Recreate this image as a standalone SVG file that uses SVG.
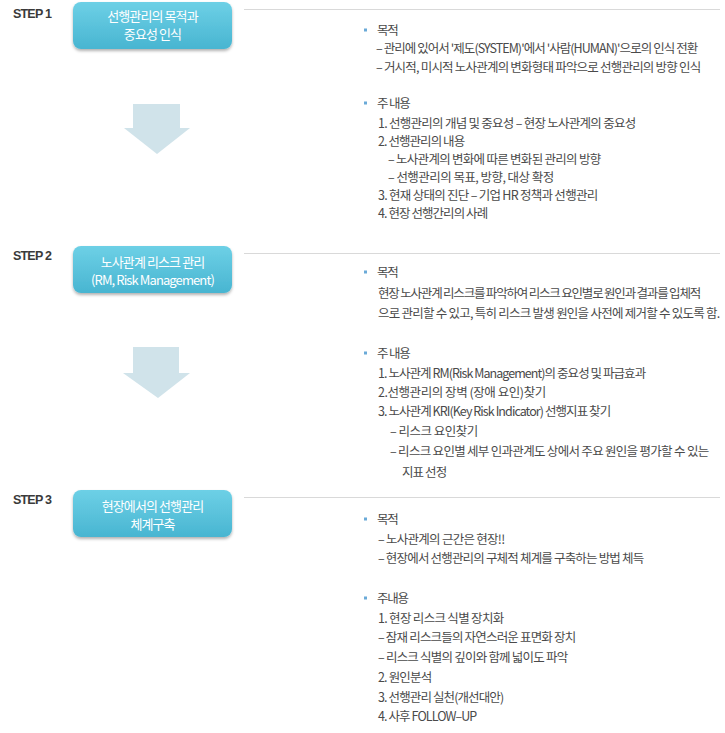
<svg xmlns="http://www.w3.org/2000/svg" width="725" height="733" viewBox="0 0 725 733">
<defs>
<linearGradient id="boxg" x1="0" y1="0" x2="0" y2="1">
<stop offset="0" stop-color="#6dd0e6"/>
<stop offset="1" stop-color="#48b5d1"/>
</linearGradient>
<filter id="sh" x="-10%" y="-10%" width="120%" height="130%">
<feDropShadow dx="0" dy="2" stdDeviation="1.5" flood-color="#000" flood-opacity="0.3"/>
</filter>
<rect id="bul" width="3" height="3" fill="#6aaad8"/>
</defs>
<style>
.step{font-family:"Liberation Sans","Noto Sans CJK KR",sans-serif;font-size:12.5px;font-weight:bold;fill:#3a3a3a;letter-spacing:-0.8px}
.bx{font-family:"Noto Sans CJK KR",sans-serif;font-size:13px;fill:#fff;text-anchor:middle;letter-spacing:-0.9px}
.t{font-family:"Noto Sans CJK KR",sans-serif;font-size:12.5px;fill:#4a4a4a;letter-spacing:-1.2px}
.hl{stroke:#d9d9d9;stroke-width:1}
.ar{fill:#d0e3ea}
</style>
<rect width="725" height="733" fill="#fff"/>

<g id="connectors">
<polygon class="ar" points="133,104 180,104 180,128 190,128 157,154 124,128 133,128"/>
<polygon class="ar" points="133,347 179,347 179,373 190,373 158,398 123,373 133,373"/>
</g>

<g id="step1">
<text class="step" x="13" y="18">STEP 1</text>
<rect x="73" y="2" width="159" height="47" rx="8" fill="url(#boxg)" filter="url(#sh)"/>
<text class="bx" x="152.5" y="20.5">선행관리의 목적과</text>
<text class="bx" x="152.5" y="38.5">중요성 인식</text>
<line class="hl" x1="244" y1="9.5" x2="720" y2="9.5"/>
<use href="#bul" x="364" y="28.5"/>
<text class="t" x="377" y="35">목적</text>
<text class="t" x="376" y="53" textLength="321">– 관리에 있어서 '제도(SYSTEM)'에서 '사람(HUMAN)'으로의 인식 전환</text>
<text class="t" x="376" y="72" textLength="324">– 거시적, 미시적 노사관계의 변화형태 파악으로 선행관리의 방향 인식</text>
<use href="#bul" x="364" y="101.5"/>
<text class="t" x="377" y="108">주 내용</text>
<text class="t" x="378" y="128" textLength="257">1. 선행관리의 개념 및 중요성 – 현장 노사관계의 중요성</text>
<text class="t" x="378" y="146" textLength="86">2. 선행관리의 내용</text>
<text class="t" x="388" y="164" textLength="212">– 노사관계의 변화에 따른 변화된 관리의 방향</text>
<text class="t" x="388" y="182" textLength="165">– 선행관리의 목표, 방향, 대상 확정</text>
<text class="t" x="378" y="200" textLength="219">3. 현재 상태의 진단 – 기업 HR 정책과 선행관리</text>
<text class="t" x="378" y="218" textLength="109">4. 현장 선행간리의 사례</text>
</g>

<g id="step2">
<text class="step" x="13" y="260">STEP 2</text>
<rect x="73" y="246" width="159" height="47" rx="8" fill="url(#boxg)" filter="url(#sh)"/>
<text class="bx" x="152.5" y="266.5">노사관계 리스크 관리</text>
<text class="bx" x="152.5" y="284.5">(RM, Risk Management)</text>
<line class="hl" x1="244" y1="253.5" x2="720" y2="253.5"/>
<use href="#bul" x="364" y="270.5"/>
<text class="t" x="377" y="277">목적</text>
<text class="t" x="378" y="298" textLength="322">현장 노사관계 리스크를 파악하여 리스크 요인별로 원인과 결과를 입체적</text>
<text class="t" x="378" y="318" textLength="341">으로 관리할 수 있고, 특히 리스크 발생 원인을 사전에 제거할 수 있도록 함.</text>
<use href="#bul" x="364" y="351.5"/>
<text class="t" x="377" y="358">주 내용</text>
<text class="t" x="378" y="378" textLength="267">1. 노사관계 RM(Risk Management)의 중요성 및 파급효과</text>
<text class="t" x="378" y="397" textLength="167">2.선행관리의 장벽 (장애 요인)찾기</text>
<text class="t" x="378" y="416" textLength="232">3. 노사관계 KRI(Key Risk Indicator) 선행지표 찾기</text>
<text class="t" x="390" y="436" textLength="87">– 리스크 요인찾기</text>
<text class="t" x="390" y="456" textLength="318">– 리스크 요인별 세부 인과관계도 상에서 주요 원인을 평가할 수 있는</text>
<text class="t" x="402" y="477" textLength="44">지표 선정</text>
</g>

<g id="step3">
<text class="step" x="13" y="504">STEP 3</text>
<rect x="73" y="490" width="159" height="47" rx="8" fill="url(#boxg)" filter="url(#sh)"/>
<text class="bx" x="152.5" y="510.5">현장에서의 선행관리</text>
<text class="bx" x="152.5" y="528.5">체계구축</text>
<line class="hl" x1="244" y1="497.5" x2="720" y2="497.5"/>
<use href="#bul" x="364" y="517.5"/>
<text class="t" x="377" y="524">목적</text>
<text class="t" x="378" y="544" textLength="126">– 노사관계의 근간은 현장!!</text>
<text class="t" x="378" y="563" textLength="265">– 현장에서 선행관리의 구체적 체계를 구축하는 방법 체득</text>
<use href="#bul" x="364" y="596.5"/>
<text class="t" x="377" y="603">주내용</text>
<text class="t" x="378" y="623" textLength="125">1. 현장 리스크 식별 장치화</text>
<text class="t" x="378" y="642" textLength="197">– 잠재 리스크들의 자연스러운 표면화 장치</text>
<text class="t" x="378" y="662" textLength="189">– 리스크 식별의 깊이와 함께 넓이도 파악</text>
<text class="t" x="378" y="682" textLength="53">2. 원인분석</text>
<text class="t" x="378" y="702" textLength="125">3. 선행관리 실천(개선대안)</text>
<text class="t" x="378" y="721" textLength="98">4. 사후 FOLLOW–UP</text>
</g>
</svg>
